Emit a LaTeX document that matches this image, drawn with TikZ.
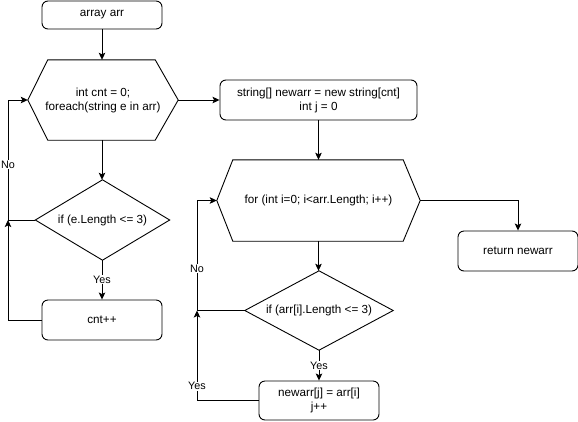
\documentclass[tikz,border=0pt]{standalone}
\usepackage{fontspec}
\setmainfont{Liberation Sans}
\usetikzlibrary{arrows.meta,calc}
\begin{document}
\begin{tikzpicture}[x=1pt,y=-1pt,
  every node/.style={font=\fontsize{11.7}{14}\selectfont, align=center},
  box/.style={draw, rounded corners=6pt, line width=0.9pt, inner sep=0pt},
  ghost/.style={draw=none, inner sep=0pt},
  shapeline/.style={line width=0.9pt},
  arr/.style={line width=0.9pt, -{Stealth[length=7pt,width=6.5pt,inset=1.5pt]}},
  lbl/.style={fill=white, inner sep=0.8pt, font=\fontsize{10.8}{12}\selectfont}]
\useasboundingbox (0,0) rectangle (578,421);

% nodes
\node[box, minimum width=120pt, minimum height=28pt] (a) at (102,15) {array arr};
\node[ghost, minimum width=150pt, minimum height=80pt] (h1) at (103,100) {int cnt = 0;\\foreach(string e in arr)};
\node[ghost, minimum width=134pt, minimum height=80pt] (d1) at (102.5,220) {if (e.Length <= 3)};
\node[box, minimum width=120pt, minimum height=40pt] (c) at (102,320) {cnt++};
\node[box, minimum width=197pt, minimum height=40pt] (b) at (318.5,100) {string[] newarr = new string[cnt]\\int j = 0};
\node[ghost, minimum width=203pt, minimum height=81pt] (h2) at (318.5,200.5) {for (int i=0; i<arr.Length; i++)};
\node[box, minimum width=120pt, minimum height=40pt] (r) at (518,251) {return newarr};
\node[ghost, minimum width=148pt, minimum height=79pt] (d2) at (319,310.5) {if (arr[i].Length <= 3)};
\node[box, minimum width=120pt, minimum height=39pt] (n) at (319,400.5) {newarr[j] = arr[i]\\j++};

% hexagons and diamonds
\draw[shapeline] (h1.west) -- ($(h1.north west)+(20,0)$) -- ($(h1.north east)+(-23,0)$) -- (h1.east)
  -- ($(h1.south east)+(-23,0)$) -- ($(h1.south west)+(20,0)$) -- cycle;
\draw[shapeline] (h2.west) -- ($(h2.north west)+(16,0)$) -- ($(h2.north east)+(-17,0)$) -- (h2.east)
  -- ($(h2.south east)+(-17,0)$) -- ($(h2.south west)+(16,0)$) -- cycle;
\draw[shapeline] (d1.north) -- (d1.east) -- (d1.south) -- (d1.west) -- cycle;
\draw[shapeline] (d2.north) -- (d2.east) -- (d2.south) -- (d2.west) -- cycle;

% join points of the loop-back lines
\coordinate (j1) at (8,220);
\coordinate (j2) at (197,310.5);

% first loop
\draw[arr] (a.south) -- (a.south |- h1.north);
\draw[arr] (h1.south -| a.south) -- (d1.north -| a.south);
\draw[arr] (d1.south -| a.south) -- (c.north -| a.south) node[lbl, pos=0.5] {Yes};
\draw[arr] (d1.west) -- (j1) |- (h1.west) node[lbl, pos=0.23] {No};
\draw[arr] (c.west) -| (j1);
\draw[arr] (h1.east) -- (b.west);

% second loop
\draw[arr] (b.south) -- (b.south |- h2.north);
\draw[arr] (h2.east) -| (r.north);
\draw[arr] (h2.south) -- (h2.south |- d2.north);
\draw[arr] (d2.south) -- (n.north) node[lbl, pos=0.5] {Yes};
\draw[arr] (d2.west) -- (j2) |- (h2.west) node[lbl, pos=0.19] {No};
\draw[arr] (n.west) -| (j2) node[lbl, pos=0.58] {Yes};
\end{tikzpicture}
\end{document}
